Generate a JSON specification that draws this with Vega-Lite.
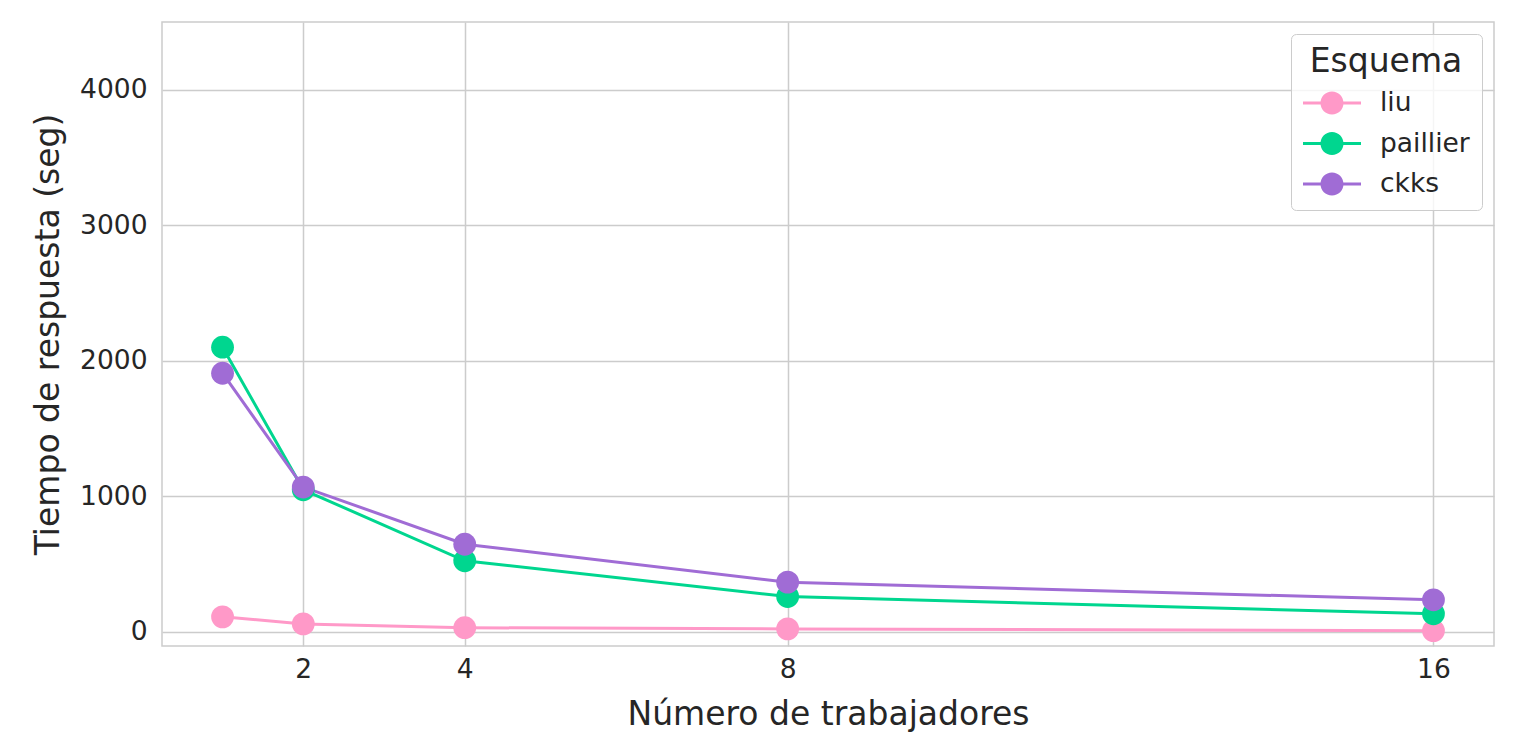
{
  "$schema": "https://vega.github.io/schema/vega-lite/v6.json",
  "autosize": "none",
  "width": 1332,
  "height": 624,
  "padding": {"left": 162, "top": 22, "right": 30, "bottom": 95},
  "background": "white",
  "config": {
    "font": "DejaVu Sans",
    "view": {"stroke": "#cccccc", "strokeWidth": 1.5},
    "axis": {
      "domain": false,
      "ticks": false,
      "grid": true,
      "gridColor": "#cccccc",
      "gridWidth": 1.5,
      "labelFont": "DejaVu Sans",
      "labelFontSize": 26.5,
      "labelColor": "#262626",
      "titleFont": "DejaVu Sans",
      "titleFontSize": 33,
      "titleFontWeight": "normal",
      "titleColor": "#262626"
    }
  },
  "data": {
    "values": [
      {"esquema": "liu", "trabajadores": 1, "tiempo": 110},
      {"esquema": "liu", "trabajadores": 2, "tiempo": 58},
      {"esquema": "liu", "trabajadores": 4, "tiempo": 30},
      {"esquema": "liu", "trabajadores": 8, "tiempo": 21},
      {"esquema": "liu", "trabajadores": 16, "tiempo": 8},
      {"esquema": "paillier", "trabajadores": 1, "tiempo": 2100},
      {"esquema": "paillier", "trabajadores": 2, "tiempo": 1048},
      {"esquema": "paillier", "trabajadores": 4, "tiempo": 524},
      {"esquema": "paillier", "trabajadores": 8, "tiempo": 260},
      {"esquema": "paillier", "trabajadores": 16, "tiempo": 133},
      {"esquema": "ckks", "trabajadores": 1, "tiempo": 1908},
      {"esquema": "ckks", "trabajadores": 2, "tiempo": 1068},
      {"esquema": "ckks", "trabajadores": 4, "tiempo": 646},
      {"esquema": "ckks", "trabajadores": 8, "tiempo": 366},
      {"esquema": "ckks", "trabajadores": 16, "tiempo": 236}
    ]
  },
  "mark": {"type": "line", "strokeWidth": 3, "point": {"filled": true, "size": 520, "opacity": 1}},
  "encoding": {
    "x": {
      "field": "trabajadores",
      "type": "quantitative",
      "title": "Número de trabajadores",
      "scale": {"domain": [0.25, 16.75], "nice": false, "zero": false},
      "axis": {"values": [2, 4, 8, 16], "labelPadding": 10, "titlePadding": 16}
    },
    "y": {
      "field": "tiempo",
      "type": "quantitative",
      "title": "Tiempo de respuesta (seg)",
      "scale": {"domain": [-105, 4500], "nice": false, "zero": false},
      "axis": {"values": [0, 1000, 2000, 3000, 4000], "format": "d", "labelPadding": 15, "titlePadding": 14}
    },
    "color": {
      "field": "esquema",
      "type": "nominal",
      "scale": {"domain": ["liu", "paillier", "ckks"], "range": ["#ff99c8", "#00d68f", "#a06cd5"]},
      "legend": {
        "title": "Esquema",
        "orient": "top-right",
        "offset": 12,
        "padding": 12,
        "fillColor": "rgba(255,255,255,0.8)",
        "strokeColor": "#cccccc",
        "cornerRadius": 5,
        "titleFont": "DejaVu Sans",
        "titleFontSize": 33,
        "titleFontWeight": "normal",
        "titleColor": "#262626",
        "titleAnchor": "middle",
        "titlePadding": 4,
        "labelFont": "DejaVu Sans",
        "labelFontSize": 26.5,
        "labelColor": "#262626",
        "labelOffset": 28,
        "symbolOffset": 9,
        "symbolType": "M-1.45,-0.075L1.45,-0.075L1.45,0.075L-1.45,0.075Z M-0.575,0A0.575,0.575 0 1,1 0.575,0A0.575,0.575 0 1,1 -0.575,0Z",
        "symbolSize": 1600,
        "symbolStrokeWidth": 0,
        "symbolOpacity": 1,
        "rowPadding": 6.5,
        "encode": {
          "symbols": {
            "update": {
              "fill": {"scale": "color", "field": "value"},
              "strokeWidth": {"value": 0}
            }
          }
        }
      }
    }
  }
}
